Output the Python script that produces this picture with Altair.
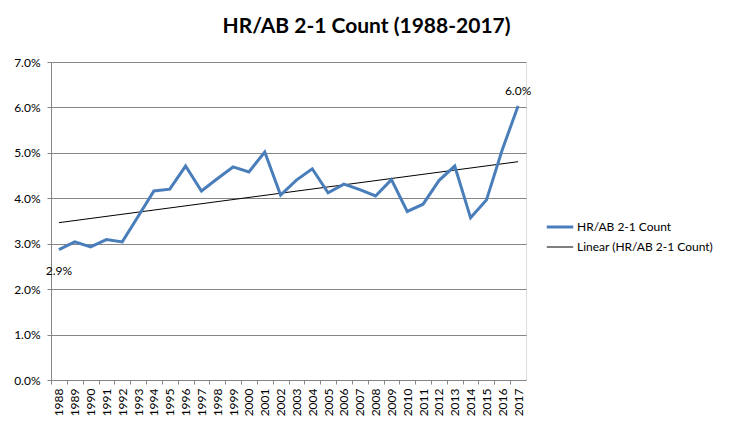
import altair as alt
import pandas as pd

years = list(range(1988, 2018))
rates = [0.0287, 0.0304, 0.0293, 0.0309, 0.0304, 0.0360, 0.0416, 0.0420, 0.0471, 0.0416,
         0.0443, 0.0469, 0.0458, 0.0502, 0.0407, 0.0440, 0.0465, 0.0412, 0.0431, 0.0419,
         0.0405, 0.0441, 0.0371, 0.0387, 0.0439, 0.0471, 0.0357, 0.0396, 0.0507, 0.0603]
series_name = "HR/AB 2-1 Count"
trend_name = "Linear (HR/AB 2-1 Count)"
title_text = "HR/AB 2-1 Count (1988-2017)"
y_ticks = [0, 0.01, 0.02, 0.03, 0.04, 0.05, 0.06, 0.07]
label_years_below = [1988]
label_years_above = [2017]

df = pd.DataFrame({"year": years, "rate": rates})

FONT = "Lato"
GRID = "#868686"
W, H = 475, 318
half = W / len(years) / 2

x_enc = alt.X(
    "year:Q",
    scale=alt.Scale(domain=[years[0] - 0.5, years[-1] + 0.5], nice=False, zero=False),
    axis=alt.Axis(
        values=years + [years[-1] + 1],
        labelExpr=f"datum.value > {years[-1]} ? '' : datum.label",
        format="d", labelAngle=270, title=None, grid=False,
        tickOffset=-half, labelOffset=half, tickSize=4, labelPadding=4,
        tickColor=GRID, domainColor=GRID, labelFont=FONT, labelFontSize=12,
        labelColor="black", labelFlush=False, labelOverlap=False, labelBound=False,
    ),
)
y_enc = alt.Y(
    "rate:Q",
    scale=alt.Scale(domain=[0, 0.07], nice=False),
    axis=alt.Axis(
        values=y_ticks, format=".1%", title=None, grid=True, gridColor=GRID,
        tickColor=GRID, domainColor=GRID, tickSize=4, labelPadding=7,
        labelFont=FONT, labelFontSize=12, labelColor="black",
    ),
)
leg = alt.Legend(
    title=None, orient="none", legendX=494, legendY=150, symbolType="stroke",
    symbolSize=700, labelFont=FONT, labelFontSize=12, labelColor="black",
    labelOffset=2, rowPadding=0, padding=0,
)
color_enc = alt.Color(
    "series:N",
    scale=alt.Scale(domain=[series_name, trend_name], range=["#4a7ebb", "black"]),
    legend=leg,
)
sw_enc = alt.StrokeWidth(
    "series:N",
    scale=alt.Scale(domain=[series_name, trend_name], range=[3, 1]),
    legend=leg,
)

base = alt.Chart(df)

line = base.transform_calculate(series=f"'{series_name}'").mark_line().encode(
    x=x_enc, y=y_enc, color=color_enc, strokeWidth=sw_enc
)
trend = (
    base.transform_regression("year", "rate", method="linear")
    .transform_calculate(series=f"'{trend_name}'")
    .mark_line()
    .encode(x=x_enc, y=y_enc, color=color_enc, strokeWidth=sw_enc)
)
lab_below = base.transform_filter(
    alt.FieldOneOfPredicate(field="year", oneOf=label_years_below)
).mark_text(font=FONT, fontSize=12, color="black", dy=21).encode(
    x=x_enc, y=y_enc, text=alt.Text("rate:Q", format=".1%")
)
lab_above = base.transform_filter(
    alt.FieldOneOfPredicate(field="year", oneOf=label_years_above)
).mark_text(font=FONT, fontSize=12, color="black", dy=-15).encode(
    x=x_enc, y=y_enc, text=alt.Text("rate:Q", format=".1%")
)

chart = (
    alt.layer(trend, line, lab_below, lab_above)
    .properties(
        width=W, height=H,
        title=alt.TitleParams(title_text, font=FONT, fontSize=21, fontWeight="bold",
                              color="black", anchor="middle", dx=78, offset=19),
        autosize=alt.AutoSizeParams(type="none"),
        padding={"left": 43, "top": 54, "right": 200, "bottom": 45},
    )
    .configure_view(stroke=None)
    .configure(background="white")
)

chart.save("out.html", embed_options={"renderer": "svg", "actions": False})
